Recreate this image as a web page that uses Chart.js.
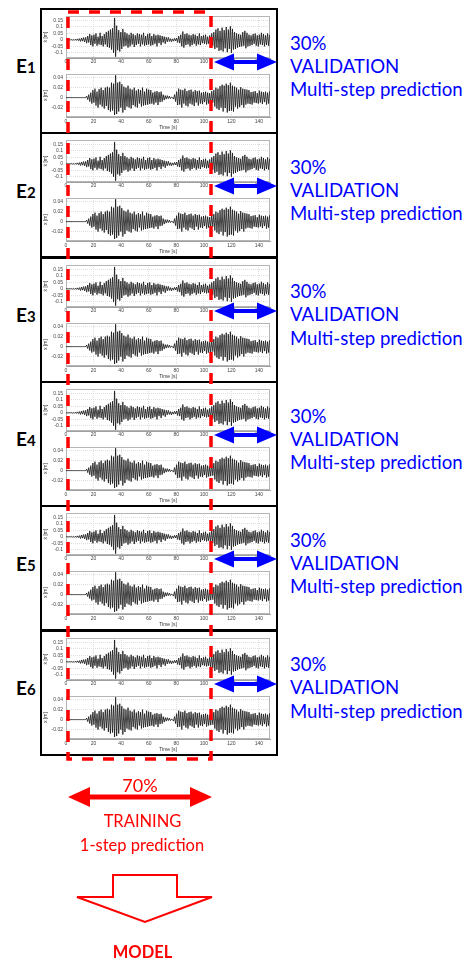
<!DOCTYPE html>
<html>
<head>
<meta charset="utf-8">
<script src="https://cdn.jsdelivr.net/npm/chart.js@4.4.1/dist/chart.umd.min.js"></script>
<style>
    html, body { margin: 0; padding: 0; background: #fff; }
    #page { position: relative; width: 475px; height: 962px; overflow: hidden; font-family: Lato, "Open Sans", sans-serif; }
    .panel { position: absolute; left: 40px; width: 238px; height: 126px; border: 2px solid #000; box-sizing: border-box; }
    canvas { position: absolute; }
    .txt { position: absolute; white-space: nowrap; line-height: 1; }
    svg { position: absolute; left: 0; top: 0; }
</style>
</head>
<body>
<div id="page"></div>
<script>
(() => {
    'use strict';

    // Sampling step of the records [s]
    const DT = 0.75;

    // Velocity record, top plot of each experiment
    const velocity = [
        0, 0.002, -0.002, 0.003, -0.002, 0.004, -0.003, 0.003, -0.004, 0.005, -0.004, 0.008, -0.006, 0.01, -0.012, 0.015, -0.01, 0.018, -0.015, 0.02,
        -0.025, 0.03, -0.02, 0.045, -0.04, 0.035, -0.05, 0.04, -0.03, 0.05, -0.045, 0.025, -0.035, 0.055, -0.04, 0.03, -0.05, 0.045, -0.035, 0.06,
        -0.055, 0.07, -0.06, 0.08, -0.075, 0.09, -0.1, 0.17, -0.13, 0.11, -0.08, 0.075, -0.09, 0.06, -0.07, 0.085, -0.05, 0.06, -0.045, 0.05,
        -0.06, 0.04, -0.05, 0.055, -0.035, 0.045, -0.055, 0.035, -0.04, 0.05, -0.03, 0.045, -0.05, 0.04, -0.035, 0.055, -0.045, 0.03, -0.04, 0.045,
        -0.035, 0.05, -0.045, 0.03, -0.04, 0.045, -0.03, 0.035, -0.05, 0.04, -0.025, 0.035, -0.04, 0.03, -0.02, 0.025, -0.03, 0.02, -0.015, 0.02,
        -0.012, 0.01, -0.015, 0.008, -0.01, 0.012, -0.008, 0.015, -0.02, 0.03, -0.025, 0.04, -0.05, 0.065, -0.06, 0.045, -0.04, 0.05, -0.035, 0.04,
        -0.05, 0.035, -0.04, 0.045, -0.03, 0.04, -0.045, 0.03, -0.035, 0.05, -0.04, 0.03, -0.025, 0.035, -0.03, 0.04, -0.035, 0.025, -0.03, 0.035,
        -0.04, 0.05, -0.045, 0.06, -0.07, 0.08, -0.06, 0.09, -0.085, 0.07, -0.08, 0.095, -0.09, 0.075, -0.065, 0.1, -0.095, 0.08, -0.07, 0.105,
        -0.1, 0.085, -0.075, 0.06, -0.07, 0.05, -0.06, 0.045, -0.055, 0.04, -0.05, 0.06, -0.045, 0.07, -0.065, 0.055, -0.05, 0.04, -0.045, 0.035,
        -0.04, 0.045, -0.03, 0.05, -0.045, 0.035, -0.05, 0.04, -0.035, 0.055, -0.04, 0.045, -0.05, 0.035, -0.04, 0.05, -0.045, 0.04
    ];

    // Displacement record, bottom plot of each experiment
    const displacement = [
        0, 0, 0, 0, 0, 0, 0, 0, 0, 0, 0, 0, 0, 0, 0, 0, 0, 0, 0, 0,
        0.003, -0.004, 0.006, -0.008, 0.01, -0.012, 0.015, -0.01, 0.018, -0.016, 0.012, -0.02, 0.017, -0.014, 0.02, -0.018, 0.015, -0.022, 0.02, -0.017,
        0.022, -0.025, 0.02, -0.028, 0.03, -0.026, 0.028, -0.035, 0.045, -0.033, 0.03, -0.028, 0.032, -0.02, 0.027, -0.03, 0.022, -0.025, 0.02, -0.018,
        0.024, -0.02, 0.018, -0.022, 0.016, -0.015, 0.02, -0.018, 0.014, -0.02, 0.017, -0.012, 0.015, -0.018, 0.02, -0.016, 0.012, -0.015, 0.018, -0.014,
        0.016, -0.013, 0.015, -0.012, 0.01, -0.014, 0.012, -0.01, 0.013, -0.015, 0.011, -0.009, 0.012, -0.008, 0.006, -0.005, 0.004, -0.003, 0.004, -0.002,
        0.003, -0.002, 0.001, 0, -0.003, 0.006, -0.008, 0.012, -0.015, 0.018, -0.014, 0.016, -0.02, 0.015, -0.012, 0.018, -0.016, 0.013, -0.018, 0.015,
        -0.012, 0.016, -0.014, 0.012, -0.017, 0.015, -0.01, 0.013, -0.016, 0.014, -0.012, 0.01, -0.013, 0.011, -0.009, 0.012, -0.014, 0.01, -0.012, 0.009,
        -0.011, 0.013, -0.01, 0.015, -0.018, 0.02, -0.022, 0.018, -0.025, 0.023, -0.02, 0.026, -0.028, 0.024, -0.021, 0.028, -0.03, 0.025, -0.027, 0.03,
        -0.026, 0.024, -0.028, 0.022, -0.018, 0.02, -0.022, 0.016, -0.019, 0.021, -0.015, 0.018, -0.02, 0.017, -0.014, 0.016, -0.012, 0.015, -0.013, 0.011,
        -0.014, 0.012, -0.01, 0.013, -0.011, 0.009, -0.012, 0.014, -0.01, 0.012, -0.013, 0.011, -0.009, 0.012, -0.014, 0.01, -0.012, 0.013
    ];

    const timeTicks = [0, 20, 40, 60, 80, 100, 120, 140];
    const velocityTicks = [-0.1, -0.05, 0, 0.05, 0.1, 0.15];
    const displacementTicks = [-0.02, 0, 0.02, 0.04];
    const experiments = ['1', '2', '3', '4', '5', '6'];
    const validationLines = ['30%', 'VALIDATION', 'Multi-step prediction'];

    const BLUE = '#0000ff';
    const RED = '#ff0000';
    const PANEL_TOP = 8;
    const PANEL_STEP = 124.3;

    const page = document.getElementById('page');

    // Light frame round the plot area (matlab box)
    const framePlugin = {
        id: 'frame',
        beforeDatasetsDraw(chart) {
            const { ctx, chartArea: a } = chart;
            ctx.save();
            ctx.strokeStyle = '#b5b5b5';
            ctx.lineWidth = 1;
            ctx.strokeRect(a.left + 0.5, a.top + 0.5, a.width - 1, a.height - 1);
            ctx.restore();
        }
    };

    // Put a line of text with its cap middle at capY
    function addText(html, x, capY, size, color, weight, centered) {
        let el = document.createElement('div');
        el.className = 'txt';
        el.innerHTML = html;
        el.style.fontSize = size + 'px';
        el.style.color = color;
        el.style.fontWeight = weight || 'normal';
        el.style.left = x + 'px';
        el.style.top = (capY - 0.527 * size) + 'px';
        if (centered) el.style.transform = 'translateX(-50%)';
        page.appendChild(el);
    }

    function drawSignal(left, top, width, height, values, yTicks, yMin, yMax, yTitle, timeTitle) {
        let canvas = document.createElement('canvas');
        canvas.width = width;
        canvas.height = height;
        canvas.style.left = left + 'px';
        canvas.style.top = top + 'px';
        page.appendChild(canvas);

        let xHeight = timeTitle ? 14 : 8;

        new Chart(canvas, {
            type: 'line',
            data: {
                datasets: [{
                    data: values.map((v, i) => ({ x: i * DT, y: v })),
                    borderColor: '#141414',
                    borderWidth: 0.8,
                    pointRadius: 0,
                    tension: 0
                }]
            },
            options: {
                responsive: false,
                animation: false,
                devicePixelRatio: 1,
                events: [],
                layout: { padding: { top: 2, right: 4, left: 0, bottom: 0 } },
                plugins: { legend: { display: false }, tooltip: { enabled: false } },
                scales: {
                    x: {
                        type: 'linear',
                        min: 0,
                        max: 148,
                        afterBuildTicks: s => { s.ticks = timeTicks.map(v => ({ value: v })); },
                        afterFit: s => { s.height = xHeight; },
                        ticks: { font: { size: 5 }, color: '#444', padding: timeTitle ? 2 : 1, maxRotation: 0, autoSkip: false },
                        grid: { color: '#dedede', drawTicks: false },
                        border: { color: '#a0a0a0', dash: [1, 1] },
                        title: { display: !!timeTitle, text: timeTitle, font: { size: 5 }, color: '#333', padding: 0 }
                    },
                    y: {
                        min: yMin,
                        max: yMax,
                        afterBuildTicks: s => { s.ticks = yTicks.map(v => ({ value: v })); },
                        afterFit: s => { s.width = 24; },
                        ticks: {
                            font: { size: 5 },
                            color: '#444',
                            padding: 3,
                            autoSkip: false,
                            callback: v => String(+v.toFixed(3))
                        },
                        grid: { color: '#dedede', drawTicks: false },
                        border: { color: '#a0a0a0', dash: [1, 1] },
                        title: { display: true, text: yTitle, font: { size: 5 }, color: '#333', padding: 1 }
                    }
                }
            },
            plugins: [framePlugin]
        });
    }

    // Experiment boxes first, so that charts sit on top
    experiments.forEach((label, i) => {
        let box = document.createElement('div');
        box.className = 'panel';
        box.style.top = (PANEL_TOP + i * PANEL_STEP) + 'px';
        page.appendChild(box);
    });

    let shapes = '';

    experiments.forEach((label, i) => {
        let top = PANEL_TOP + i * PANEL_STEP;

        drawSignal(42, top + 2, 232, 56, velocity, velocityTicks, -0.14, 0.185, 'ẋ [m]', '');
        drawSignal(42, top + 60, 232, 63, displacement, displacementTicks, -0.039, 0.0475, 'x [m]', 'Time [s]');

        addText('E<span style="font-size:15px">' + label + '</span>', 16, top + 58.5, 19, '#000', 'bold', false);

        validationLines.forEach((line, k) => {
            addText(line, 290, top + [35.5, 58.5, 82][k], 18.6, BLUE, 'normal', false);
        });

        // Validation double arrow
        let y = Math.round(top + 54);
        shapes += '<polygon fill="' + BLUE + '" points="' + [
            [214, y], [234, y - 8.5], [234, y - 2], [257, y - 2], [257, y - 8.5],
            [277, y], [257, y + 8.5], [257, y + 2], [234, y + 2], [234, y + 8.5]
        ].map(p => p.join(',')).join(' ') + '"/>';
    });

    // Training window
    shapes += '<rect x="68" y="12" width="143" height="747" fill="none" stroke="' + RED +
        '" stroke-width="3.5" stroke-dasharray="11 10"/>';

    // Training double arrow
    let ry = 797;
    shapes += '<polygon fill="' + RED + '" points="' + [
        [68, ry], [90, ry - 10], [90, ry - 2.5], [190, ry - 2.5], [190, ry - 10],
        [212, ry], [190, ry + 10], [190, ry + 2.5], [90, ry + 2.5], [90, ry + 10]
    ].map(p => p.join(',')).join(' ') + '"/>';

    // Block arrow down to the model
    shapes += '<polygon fill="#fff" stroke="' + RED + '" stroke-width="2" points="' + [
        [113, 875], [177, 875], [177, 897], [212, 897], [145, 922], [77, 897], [113, 897]
    ].map(p => p.join(',')).join(' ') + '"/>';

    let svg = document.createElementNS('http://www.w3.org/2000/svg', 'svg');
    svg.setAttribute('width', '475');
    svg.setAttribute('height', '962');
    svg.innerHTML = shapes;
    page.appendChild(svg);

    addText('70%', 140, 785, 18, RED, 'normal', true);
    addText('TRAINING', 142.5, 821.7, 16.5, RED, 'normal', true);
    addText('1-step prediction', 142, 846, 16.5, RED, 'normal', true);
    addText('MODEL', 142.5, 952.5, 16.5, RED, 'bold', true);
})();
</script>
</body>
</html>
